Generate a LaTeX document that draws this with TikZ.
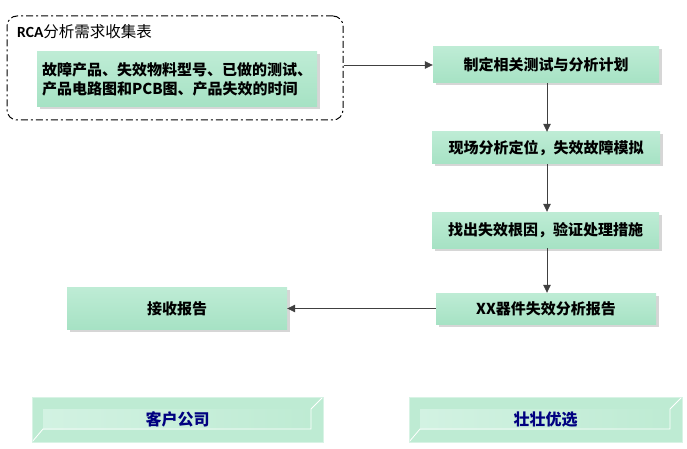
\documentclass[tikz,border=0pt]{standalone}
\usepackage{fontspec}
\newfontfamily\cjk{Noto Sans CJK SC}
\newfontfamily\lat{Carlito}
\usetikzlibrary{arrows.meta,shadows}
\definecolor{gtop}{RGB}{190,236,213}
\definecolor{gbot}{RGB}{166,226,196}
\definecolor{bvo}{RGB}{190,235,211}
\definecolor{bvl}{RGB}{210,242,226}
\definecolor{arrc}{RGB}{64,64,64}
\definecolor{navy}{RGB}{0,0,128}
\tikzset{
  stepbox/.style={shade, top color=gtop, bottom color=gbot, draw=none, inner sep=0pt,
    drop shadow={shadow xshift=2.5pt, shadow yshift=-2.5pt, fill=black!16, opacity=1},
    font=\cjk\bfseries\fontsize{15}{18}\selectfont, text=black},
  arr/.style={draw=arrc, line width=0.8pt, -{Triangle[length=8pt,width=7.5pt]}},
  bevelbox/.style={fill=bvo, draw=bvo!60!white, line width=0.6pt, inner sep=0pt,
    font=\cjk\bfseries\fontsize{16}{18}\selectfont, text=navy,
    path picture={
      \path (path picture bounding box.north west) coordinate (onw)
            (path picture bounding box.south east) coordinate (ose);
      \coordinate (inw) at ([shift={(11pt,-12pt)}]onw);
      \coordinate (ise) at ([shift={(-12pt,13pt)}]ose);
      \shade[left color=bvl, right color=bvo] (inw) rectangle (ise);
      \draw[white, line width=0.8pt] (onw |- ose) -- (inw |- ise) -- (ise) -- (ise |- inw) -- (ose |- onw);
    }},
  group/.style={draw=black, line width=1pt, rounded corners=10pt,
    dash pattern=on 7pt off 3pt on 2pt off 3pt, inner sep=0pt}
}
\begin{document}
\begin{tikzpicture}[x=1pt,y=-1pt]
\useasboundingbox (0,0) rectangle (687,449);
% group container
\node[group, minimum width=336pt, minimum height=104pt] (grp) at (175,68) {};
\node[anchor=west, inner sep=0pt, font=\fontsize{15.5}{17}\selectfont] (title) at (17,32)
  {{\lat\bfseries RCA}{\cjk 分析需求收集表}};
\node[stepbox, minimum width=280pt, minimum height=55pt, align=left, text width=270pt,
  font=\cjk\bfseries\fontsize{15}{19}\selectfont] (info) at (177,79.5)
  {故障产品、失效物料型号、已做的测试、\\产品电路图和PCB图、产品失效的时间};
% steps
\node[stepbox, minimum width=226pt, minimum height=36pt] (s1) at (546,65) {制定相关测试与分析计划};
\node[stepbox, minimum width=228pt, minimum height=32pt] (s2) at (546,148) {现场分析定位，失效故障模拟};
\node[stepbox, minimum width=227pt, minimum height=36pt] (s3) at (545.5,230) {找出失效根因，验证处理措施};
\node[stepbox, minimum width=220pt, minimum height=31pt] (s4) at (546,308.5) {XX器件失效分析报告};
\node[stepbox, minimum width=220pt, minimum height=42pt] (s5) at (177,308.5) {接收报告};
% arrows
\draw[arr] (s1.west -| grp.east) -- (s1.west);
\draw[arr] (s1.south -| 547,0) -- (s2.north -| 547,0);
\draw[arr] (s2.south -| 547,0) -- (s3.north -| 547,0);
\draw[arr] (s3.south -| 547,0) -- (s4.north -| 547,0);
\draw[arr] (s4.west) -- (s4.west -| s5.east);
% lanes
\node[bevelbox, minimum width=291pt, minimum height=45pt] (cust) at (177.5,419.5) {客户公司};
\node[bevelbox, minimum width=273pt, minimum height=45pt] (zz) at (545.5,419.5) {壮壮优选};
\end{tikzpicture}
\end{document}
